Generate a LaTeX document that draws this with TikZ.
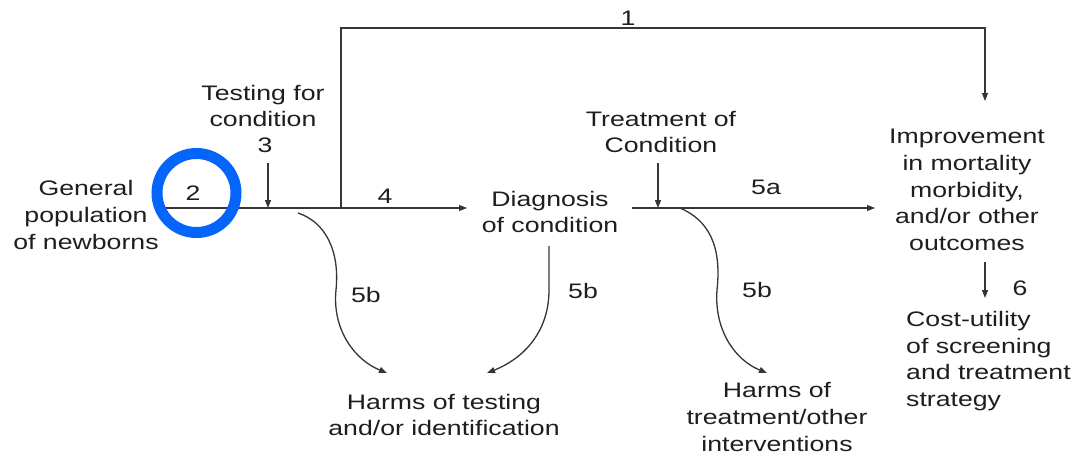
\documentclass[tikz,border=0pt]{standalone}
\usepackage{fontspec}
\setmainfont{Liberation Sans}[FakeStretch=1.27]
\usetikzlibrary{arrows.meta}
\definecolor{ink}{RGB}{30,30,30}
\definecolor{ringblue}{RGB}{5,100,250}
\tikzset{
  lbl/.style={text=ink, inner sep=0pt, align=center, font=\fontsize{21}{26.7}\selectfont},
  num/.style={text=ink, inner sep=0pt, font=\fontsize{21}{26.7}\selectfont},
  ln/.style={draw=ink!90, line width=1.3pt},
  arr/.style={ln, -{Triangle[length=8pt,width=6pt]}},
}
\begin{document}
\begin{tikzpicture}[x=1pt,y=-1pt]
\useasboundingbox (0,0) rectangle (1077,458);
% texts
\node[lbl] (gen) at (86,215) {General\\population\\of newborns};
\node[lbl] (test) at (263,106) {Testing for\\condition};
\node[num] (n3) at (265,145) {3};
\node[num] (n2) at (193,193) {2};
\node[num] (n4) at (385,196) {4};
\node[num] (n1) at (628,18) {1};
\node[lbl] (diag) at (550,212) {Diagnosis\\of condition};
\node[lbl] (treat) at (661,132) {Treatment of\\Condition};
\node[num] (n5a) at (766,187) {5a};
\node[lbl] (impr) at (967,190) {Improvement\\in mortality\\morbidity,\\and/or other\\outcomes};
\node[num] (n6) at (1020,288) {6};
\node[lbl, align=left, anchor=west] (cost) at (906,361) {Cost-utility\\of screening\\and treatment\\strategy};
\node[lbl] (harmT) at (777,417) {Harms of\\treatment/other\\interventions};
\node[lbl] (harmI) at (444,415) {Harms of testing\\and/or identification};
\node[num] (b1) at (366,295) {5b};
\node[num] (b2) at (583,291) {5b};
\node[num] (b3) at (757,290) {5b};
% coordinates
\coordinate (s) at (165,208);
\coordinate (j3) at (268,208);
\coordinate (t3) at (268,163);
\coordinate (j1) at (341,208);
\coordinate (c1a) at (341,28);
\coordinate (c1b) at (985,28);
\coordinate (e1) at (985,101);
\coordinate (e4) at (467,208);
\coordinate (d0) at (632,208);
\coordinate (jT) at (658,208);
\coordinate (tT) at (658,163);
\coordinate (e5) at (875,208);
\coordinate (s6) at (985,262);
\coordinate (e6) at (985,298);
\coordinate (k1) at (298,213);
\coordinate (m1) at (336,290);
\coordinate (h1) at (387,373);
\coordinate (k2) at (549,246);
\coordinate (m2) at (549,290);
\coordinate (h2) at (487,373);
\coordinate (k3) at (680,208);
\coordinate (m3) at (717,290);
\coordinate (h3) at (767,373);
% connectors
\draw[arr] (s) -- (e4);
\draw[arr] (t3) -- (j3);
\draw[arr] (j1) -- (c1a) -- (c1b) -- (e1);
\draw[arr] (d0) -- (e5);
\draw[arr] (tT) -- (jT);
\draw[arr] (s6) -- (e6);
\draw[arr] (k1) .. controls (325,222) and (340,250) .. (m1) .. controls (332,330) and (355,360) .. (h1);
\draw[arr] (k2) -- (m2) .. controls (549,335) and (520,360) .. (h2);
\draw[arr] (k3) .. controls (708,220) and (722,245) .. (m3) .. controls (714,330) and (735,360) .. (h3);
% highlight ring
\draw[ringblue, line width=11pt] (n2) ++(3.5,0) circle[radius=39.5];
\end{tikzpicture}
\end{document}
